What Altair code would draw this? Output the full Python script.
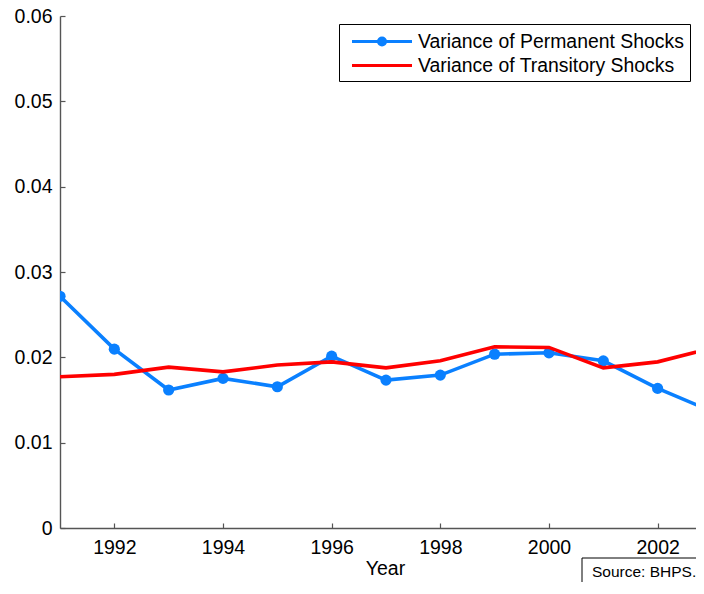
import altair as alt
import pandas as pd

years = list(range(1991, 2004))
perm = [0.02715, 0.02096, 0.01617, 0.01753, 0.01655, 0.02014, 0.01733,
        0.01792, 0.02037, 0.02053, 0.01959, 0.01636, 0.01366]
trans = [0.01772, 0.01800, 0.01885, 0.01830, 0.01910, 0.01947, 0.01877,
         0.01959, 0.02123, 0.02116, 0.01877, 0.01947, 0.02110]
series_names = ["Variance of Permanent Shocks", "Variance of Transitory Shocks"]
x_ticks = [1992, 1994, 1996, 1998, 2000, 2002]
y_ticks = [0, 0.01, 0.02, 0.03, 0.04, 0.05, 0.06]
source_note = ["Source: BHPS."]

BLUE = "#0a80ff"
RED = "#ff0000"
AXIS_GRAY = "#555555"
FONT = "Liberation Sans"
W, H = 636, 512

df = pd.DataFrame({
    "year": years * 2,
    "value": perm + trans,
    "series": [series_names[0]] * len(years) + [series_names[1]] * len(years),
})

x_enc = alt.X("year:Q",
              scale=alt.Scale(domain=[1991, 2002.706], nice=False, zero=False),
              axis=alt.Axis(values=x_ticks, format="d", title="Year",
                            ticks=False, labelPadding=10, titlePadding=3,
                            titleX=325,
                            grid=True, gridDash=[0, H - 5, 5, 3000],
                            gridColor=AXIS_GRAY, gridWidth=1.2))
y_enc = alt.Y("value:Q",
              scale=alt.Scale(domain=[0, 0.06], nice=False),
              axis=alt.Axis(values=y_ticks, format=".2~f", title=None,
                            ticks=False, labelPadding=8,
                            grid=True, gridDash=[5, 3000],
                            gridColor=AXIS_GRAY, gridWidth=1.2))

base = alt.Chart(df)

blue_line = base.transform_filter(
    alt.datum.series == series_names[0]
).mark_line(color=BLUE, strokeWidth=3.6, clip=True).encode(x=x_enc, y=y_enc)

blue_pts = base.transform_filter(
    alt.datum.series == series_names[0]
).mark_circle(color=BLUE, size=125, opacity=1, clip=True).encode(x=x_enc, y=y_enc)

red_line = base.transform_filter(
    alt.datum.series == series_names[1]
).mark_line(color=RED, strokeWidth=3.6, clip=True).encode(x=x_enc, y=y_enc)

# legend-only layer (no data drawn; scales have explicit domains)
sym_blue = ("M-0.45,0L5.55,0M2.9,0A0.35,0.35,0,1,1,2.2,0"
            "A0.35,0.35,0,1,1,2.9,0Z")
sym_red = "M-0.45,0L5.55,0"
legend_props = dict(
    title=None, orient="none", legendX=279, legendY=8,
    labelFont=FONT, labelFontSize=19.4, labelColor="black", labelLimit=500,
    labelOffset=50, rowPadding=2, padding=6,
    strokeColor="black", fillColor="white",
    symbolSize=400, symbolStrokeWidth=3,
)
legend_layer = base.transform_filter("datum.year < 0").mark_point(
    filled=True, strokeWidth=3, opacity=1
).encode(
    x=x_enc, y=y_enc,
    fill=alt.Fill("series:N",
                  scale=alt.Scale(domain=series_names, range=[BLUE, RED]),
                  legend=alt.Legend(**legend_props)),
    stroke=alt.Stroke("series:N",
                      scale=alt.Scale(domain=series_names, range=[BLUE, RED]),
                      legend=alt.Legend(**legend_props)),
    shape=alt.Shape("series:N",
                    scale=alt.Scale(domain=series_names, range=[sym_blue, sym_red]),
                    legend=alt.Legend(**legend_props)),
)

note_df = pd.DataFrame({"t": source_note})
note_box = alt.Chart(note_df).mark_rect(
    fill="white", stroke="black", strokeWidth=1, clip=False
).encode(x=alt.value(522), x2=alt.value(700), y=alt.value(542), y2=alt.value(610))
note_text = alt.Chart(note_df).mark_text(
    align="left", baseline="middle", font=FONT, fontSize=15.5, color="black", clip=False
).encode(x=alt.value(532), y=alt.value(556), text="t:N")

chart = alt.layer(
    blue_line, blue_pts, red_line, legend_layer, note_box, note_text
).properties(
    width=W, height=H,
    autosize=alt.AutoSizeParams(type="none"),
    padding={"left": 52, "top": 8, "right": 0, "bottom": 54},
).configure_view(
    stroke=None
).configure_axis(
    labelFont=FONT, labelFontSize=19.5, labelColor="black",
    titleFont=FONT, titleFontSize=19.5, titleColor="black", titleFontWeight="normal",
    domainColor=AXIS_GRAY, domainWidth=1.4,
)

chart.save("out.html", embed_options={"renderer": "svg", "actions": False})
